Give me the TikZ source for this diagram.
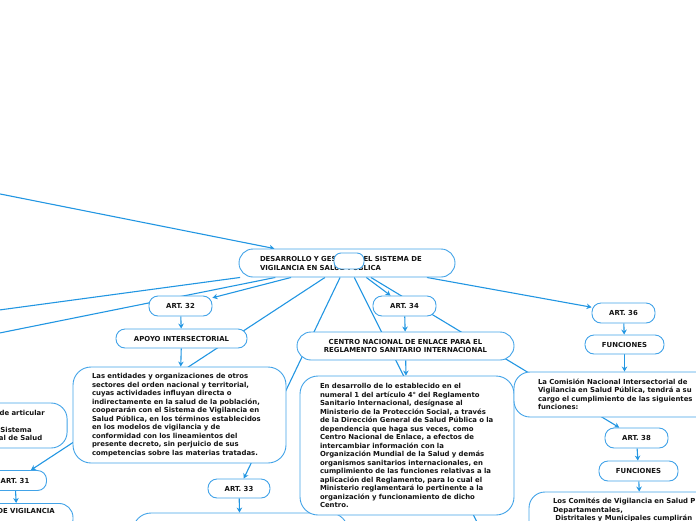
\documentclass[tikz,border=0pt]{standalone}
\usepackage{fontspec}
\setmainfont{DejaVu Sans}
\usetikzlibrary{arrows.meta, backgrounds}
\definecolor{lineblue}{RGB}{34,150,226}
\definecolor{boxblue}{RGB}{66,163,232}
\definecolor{ink}{RGB}{20,20,20}

\begin{document}
\begin{tikzpicture}[x=1pt, y=-1pt,
    box/.style={draw=boxblue, fill=white, line width=0.9pt, rounded corners=9pt, text=ink, inner sep=0pt, font=\fontsize{6.9}{8.5}\selectfont\bfseries, align=center},
    art/.style={box, minimum width=63pt, minimum height=20pt},
    head/.style={box, minimum height=19pt},
    para/.style={box, rounded corners=18pt, align=left},
    arr/.style={-{Stealth[length=5pt, width=5.5pt]}, draw=lineblue, line width=1.1pt}
  ]
  \useasboundingbox (0,0) rectangle (696,520);

  % centre
  \node[box, rounded corners=14pt, minimum width=216pt, minimum height=28pt, align=left, text width=174pt] (main) at (347,263) {DESARROLLO Y GESTIÓN DEL SISTEMA DE\\VIGILANCIA EN SALUD PÚBLICA};
  \node[box, minimum width=30pt, minimum height=16pt, rounded corners=7pt] (blank) at (349,261) {};

  % ends outside the frame
  \coordinate (root) at (-40,186);
  \coordinate (w1) at (-60,318);
  \coordinate (w2) at (-60,345);
  \coordinate (s1) at (491,550);

  % left
  \node[para, minimum width=153pt, minimum height=45pt, rounded corners=16pt] (ltxt) at (-9.4,425.5) {tiene la función de articular\\su organización,\\las acciones del Sistema\\Instituto Nacional de Salud};
  \node[art] (a31) at (15,480.5) {ART. 31};
  \node[box, rounded corners=14pt, minimum width=112pt, text height=5pt, text depth=15pt, inner ysep=5pt, anchor=north] (vig) at (17,503) {RED DE VIGILANCIA};

  % art. 32 and 33
  \node[art] (a32) at (180.5,306) {ART. 32};
  \node[head, minimum width=131pt] (apoyo) at (181.5,338.5) {APOYO INTERSECTORIAL};
  \node[para, minimum width=213pt, minimum height=96pt, text width=175pt] (apoyotxt) at (179.5,415) {Las entidades y organizaciones de otros\\sectores del orden nacional y territorial,\\cuyas actividades influyan directa o\\indirectamente en la salud de la población,\\cooperarán con el Sistema de Vigilancia en\\Salud Pública, en los términos establecidos\\en los modelos de vigilancia y de\\conformidad con los lineamientos del\\presente decreto, sin perjuicio de sus\\competencias sobre las materias tratadas.};
  \node[art, minimum width=62pt, minimum height=19pt] (a33) at (239,488.5) {ART. 33};
  \node[para, minimum width=215pt, minimum height=94pt] (a33txt) at (240.5,560) {};

  % art. 34
  \node[art] (a34) at (404.5,306) {ART. 34};
  \node[box, rounded corners=14pt, minimum width=217pt, minimum height=28pt] (enlace) at (405.5,346) {CENTRO NACIONAL DE ENLACE PARA EL\\REGLAMENTO SANITARIO INTERNACIONAL};
  \node[para, minimum width=214pt, minimum height=139pt, text width=174pt] (enlacetxt) at (407,445.5) {En desarrollo de lo establecido en el\\numeral 1 del artículo 4° del Reglamento\\Sanitario Internacional, desígnase al\\Ministerio de la Protección Social, a través\\de la Dirección General de Salud Pública o la\\dependencia que haga sus veces, como\\Centro Nacional de Enlace, a efectos de\\intercambiar información con la\\Organización Mundial de la Salud y demás\\organismos sanitarios internacionales, en\\cumplimiento de las funciones relativas a la\\aplicación del Reglamento, para lo cual el\\Ministerio reglamentará lo pertinente a la\\organización y funcionamiento de dicho\\Centro.};

  % art. 36 and 38
  \node[art] (a36) at (623.5,313) {ART. 36};
  \node[head, minimum width=79pt] (fun36) at (624.5,344.5) {FUNCIONES};
  \node[para, minimum width=221pt, minimum height=45pt, text width=173pt, rounded corners=16pt] (fun36txt) at (624.5,394.5) {La Comisión Nacional Intersectorial de\\Vigilancia en Salud Pública, tendrá a su\\cargo el cumplimiento de las siguientes\\funciones:};
  \node[art] (a38) at (636.5,438) {ART. 38};
  \node[head, minimum width=79pt, minimum height=20pt] (fun38) at (638.5,471) {FUNCIONES};
  \node[para, minimum width=222pt, minimum height=45pt, text width=174pt, rounded corners=16pt] (fun38txt) at (640,514.5) {Los Comités de Vigilancia en Salud Pública\\Departamentales,\\\ Distritales y Municipales cumplirán\\las siguientes funciones:};

  \begin{pgfonlayer}{background}
    \draw[arr] (root) -- (main);
    \draw[arr] (main) -- (w1);
    \draw[arr] (main) -- (w2);
    \draw[arr] (main) -- (a31);
    \draw[arr] (main) -- (a32);
    \draw[arr] (main) -- (a33);
    \draw[arr] (main) -- (a34);
    \draw[arr] (main) -- (s1);
    \draw[arr] (main) -- (a36);
    \draw[arr] (main) -- (a38);
    \draw[arr] (a31) -- (vig);
    \draw[arr] (a32) -- (apoyo);
    \draw[arr] (apoyo) -- (apoyotxt);
    \draw[arr] (a33) -- (a33txt);
    \draw[arr] (a34) -- (enlace);
    \draw[arr] (enlace) -- (enlacetxt);
    \draw[arr] (a36) -- (fun36);
    \draw[arr] (fun36) -- (fun36txt);
    \draw[arr] (a38) -- (fun38);
    \draw[arr] (fun38) -- (fun38txt);
  \end{pgfonlayer}
\end{tikzpicture}
\end{document}
